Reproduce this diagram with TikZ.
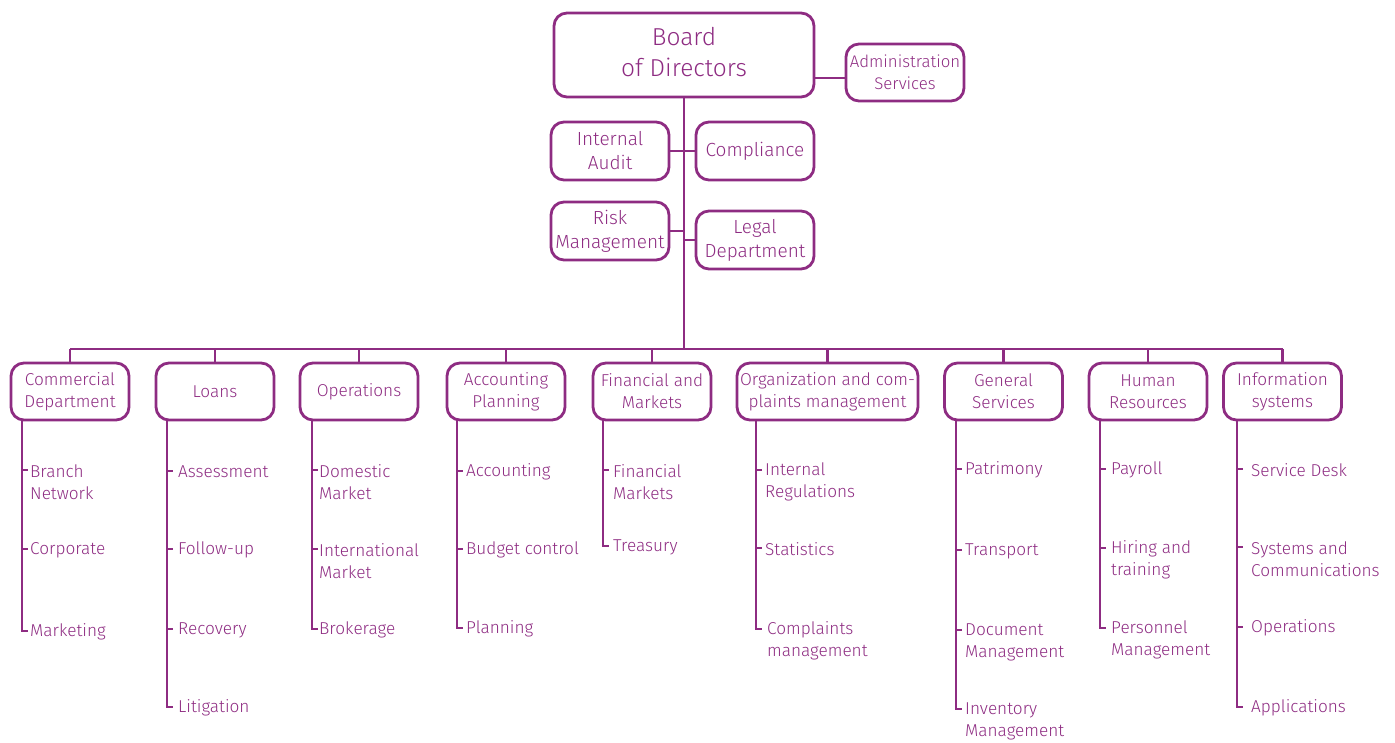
\documentclass[tikz,border=0pt]{standalone}
\usepackage{fontspec}
\setmainfont{Fira Sans Light}
\definecolor{pur}{RGB}{142,44,130}
\begin{document}
\begin{tikzpicture}[x=1pt,y=-1pt,
  ln/.style={draw=pur,line width=2.8pt},
  box/.style={draw=pur,line width=2.8pt,rounded corners=13pt,text=pur,align=center,
    font=\fontsize{17.2}{22}\selectfont,inner sep=0pt,minimum width=118pt,minimum height=57pt},
  tbox/.style={box,minimum height=58pt,font=\fontsize{19}{24}\selectfont},
  itm/.style={text=pur,align=left,anchor=west,inner sep=0pt,font=\fontsize{17.2}{22}\selectfont}]
\useasboundingbox (0,0) rectangle (1395,743);
% top
\node[box,minimum width=260pt,minimum height=84pt,font=\fontsize{24.5}{31}\selectfont] (board) at (684,55) {Board\\of Directors\\[-25pt]};
\node[box,font=\fontsize{16.8}{22}\selectfont] (admin) at (905,72.5) {Administration\\Services};
\node[tbox] (ia) at (610,151) {Internal\\Audit};
\node[tbox] (comp) at (755,151) {Compliance};
\node[tbox] (risk) at (610,231) {Risk\\Management};
\node[tbox] (legal) at (755,240) {Legal\\Department};
\coordinate (bus) at (684,349);
\draw[ln] (board.south) -- (bus);
\draw[ln] (board.east |- 0,78) -- (admin.west |- 0,78);
\draw[ln] (ia.east) -- (comp.west);
\draw[ln] (risk.east) -- (684,231);
\draw[ln] (684,240) -- (legal.west);
% departments
\node[box] (d1) at (70,391.5) {Commercial\\Department};
\node[box] (d2) at (215,391.5) {Loans};
\node[box] (d3) at (359,391.5) {Operations};
\node[box] (d4) at (506,391.5) {Accounting\\Planning};
\node[box] (d5) at (652,391.5) {Financial and\\Markets};
\node[box,minimum width=181pt] (d6) at (827.5,391.5) {Organization and com-\\plaints management};
\node[box] (d7) at (1003.5,391.5) {General\\Services};
\node[box] (d8) at (1148,391.5) {Human\\Resources};
\node[box] (d9) at (1282.5,391.5) {Information\\systems};
\draw[ln] (d1.north |- bus) -- (d9.north |- bus);
\foreach \d in {d1,d2,d3,d4,d5,d6,d7,d8,d9}
  \draw[ln] (\d.north |- bus) -- (\d.north);
% items
\newcommand{\one}[4]{\node[itm] (#1) at (#2,#3+1) {#4};}
\newcommand{\two}[4]{\node[itm] (#1) at (#2,#3+12) {#4};}
% col 1
\two{i11}{30}{470}{Branch\\Network}
\one{i12}{30}{549}{Corporate}
\one{i13}{30}{631}{Marketing}
\draw[ln] (22,420) -- (22,631) -- (28,631);
\draw[ln] (22,470) -- (28,470); \draw[ln] (22,549) -- (28,549);
% col 2
\one{i21}{178}{471}{Assessment}
\one{i22}{178}{549}{Follow-up}
\one{i23}{178}{629}{Recovery}
\one{i24}{178}{707}{Litigation}
\draw[ln] (167,420) -- (167,707) -- (173,707);
\foreach \y in {471,549,629} \draw[ln] (167,\y) -- (173,\y);
% col 3
\two{i31}{319}{470}{Domestic\\Market}
\two{i32}{319}{549}{International\\Market}
\one{i33}{319}{629}{Brokerage}
\draw[ln] (312,420) -- (312,629) -- (318,629);
\foreach \y in {470,549} \draw[ln] (312,\y) -- (318,\y);
% col 4
\one{i41}{466}{471}{Accounting}
\one{i42}{466}{549}{Budget control}
\one{i43}{466}{628}{Planning}
\draw[ln] (457,420) -- (457,628) -- (463,628);
\foreach \y in {471,549} \draw[ln] (457,\y) -- (463,\y);
% col 5
\two{i51}{613}{470}{Financial\\Markets}
\one{i52}{613}{546}{Treasury}
\draw[ln] (603,420) -- (603,546) -- (609,546);
\draw[ln] (603,470) -- (609,470);
% col 6
\two{i61}{765}{470}{Internal\\Regulations}
\one{i62}{765}{548}{Statistics}
\two{i63}{767}{629}{Complaints\\management}
\draw[ln] (756,420) -- (756,629) -- (762,629);
\foreach \y in {470,548} \draw[ln] (756,\y) -- (762,\y);
% col 7
\one{i71}{965}{469}{Patrimony}
\one{i72}{965}{550}{Transport}
\two{i73}{965}{630}{Document\\Management}
\two{i74}{965}{709}{Inventory\\Management}
\draw[ln] (956,420) -- (956,709) -- (962,709);
\foreach \y in {469,550,630} \draw[ln] (956,\y) -- (962,\y);
% col 8
\one{i81}{1111}{469}{Payroll}
\two{i82}{1111}{548}{Hiring and\\training}
\two{i83}{1111}{628}{Personnel\\Management}
\draw[ln] (1100,420) -- (1100,628) -- (1106,628);
\foreach \y in {469,548} \draw[ln] (1100,\y) -- (1106,\y);
% col 9
\one{i91}{1251}{469}{Service Desk}
\two{i92}{1251}{547}{Systems and\\Communications}
\one{i93}{1251}{627}{Operations}
\one{i94}{1251}{707}{Applications}
\draw[ln] (1237,420) -- (1237,707) -- (1243,707);
\foreach \y in {469,547,627} \draw[ln] (1237,\y) -- (1243,\y);
\end{tikzpicture}
\end{document}
